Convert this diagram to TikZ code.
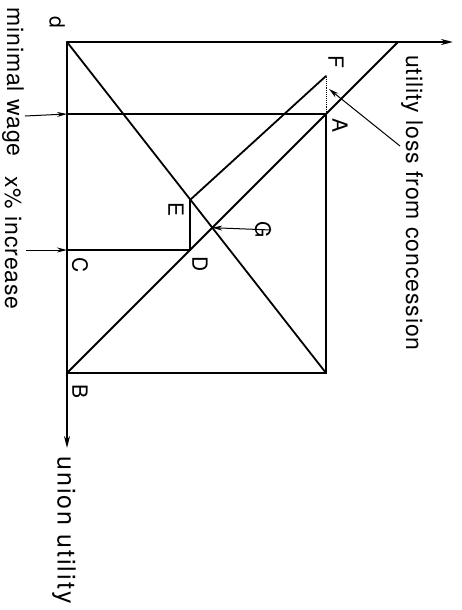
\documentclass[tikz,border=0pt]{standalone}
\usepackage{fontspec}
\setmainfont{TeX Gyre Heros}
\newfontfamily\lblfont[LetterSpace=4]{TeX Gyre Heros}
\newfontfamily\axfont[LetterSpace=8]{TeX Gyre Heros}
\usetikzlibrary{arrows.meta,intersections}
\begin{document}
\begin{tikzpicture}[x=1pt,y=-1pt,
  ln/.style={line width=1.8pt,line cap=round},
  thin ln/.style={line width=0.9pt},
  ax/.style={ln,-{Stealth[length=12pt,width=6pt]}},
  ptr/.style={line width=1pt,-{Stealth[length=10pt,width=5pt]}},
  lbl/.style={rotate=-90,inner sep=0pt,font=\lblfont\fontsize{23}{23}\selectfont},
  axlbl/.style={rotate=-90,inner sep=0pt,font=\axfont\fontsize{25}{25}\selectfont},
  pt/.style={rotate=-90,inner sep=0pt,font=\fontsize{21}{21}\selectfont}]
\useasboundingbox (0,0) rectangle (461,610);
% key points
\coordinate (d) at (67,42);
\coordinate (BR) at (326,373);
\coordinate (B) at (67,373);
\coordinate (Tend) at (398,42);
\coordinate (xend) at (453,42);
\coordinate (yend) at (67,448);
\coordinate (A) at (326,114);
\coordinate (Al) at (67,114);
\coordinate (C) at (67,250);
\coordinate (D) at (190,250);
\coordinate (E) at (190,200);
\coordinate (F) at (326,76);
% axes
\draw[ax] (d) -- (xend);
\draw[ax] (B) -- (yend);
\draw[ln] (d) -- (B);
% box
\draw[ln] (B) -- (BR) -- (A);
\draw[thin ln,densely dotted] (A) -- (F);
\draw[ln] (Al) -- (A);
\draw[ln] (C) -- (D) -- (E) -- (F);
% diagonals
\draw[ln,name path=dg1] (d) -- (BR);
\draw[ln,name path=dg2] (B) -- (Tend);
\path[name intersections={of=dg1 and dg2,by=X}];
% labels
\node[pt] (ld) at (57,22) {d};
\node[pt] (lF) at (336,62) {F};
\node[pt] (lA) at (340,126) {A};
\node[pt] (lE) at (176,210) {E};
\node[pt] (lD) at (200,264) {D};
\node[pt] (lC) at (80,265) {C};
\node[pt] (lB) at (80,391) {B};
\node[pt] (lG) at (263,230) {G};
\draw[ptr] (lG.north) -- (X);
% outer labels
\node[lbl] (util) at (412,203) {utility loss from concession};
\coordinate (uc) at (400,146);
\coordinate (uct) at (329,89);
\draw[ptr] (uc) -- (uct);
\node[lbl] (mw) at (13,82) {minimal wage};
\node[lbl] (xi) at (13,243) {x\% increase};
\node[axlbl] (uu) at (64,530) {union utility};
\coordinate (mws) at (25,116);
\coordinate (xis) at (26,250);
\draw[ptr] (mws) -- (Al);
\draw[ptr] (xis) -- (C);
\end{tikzpicture}
\end{document}
